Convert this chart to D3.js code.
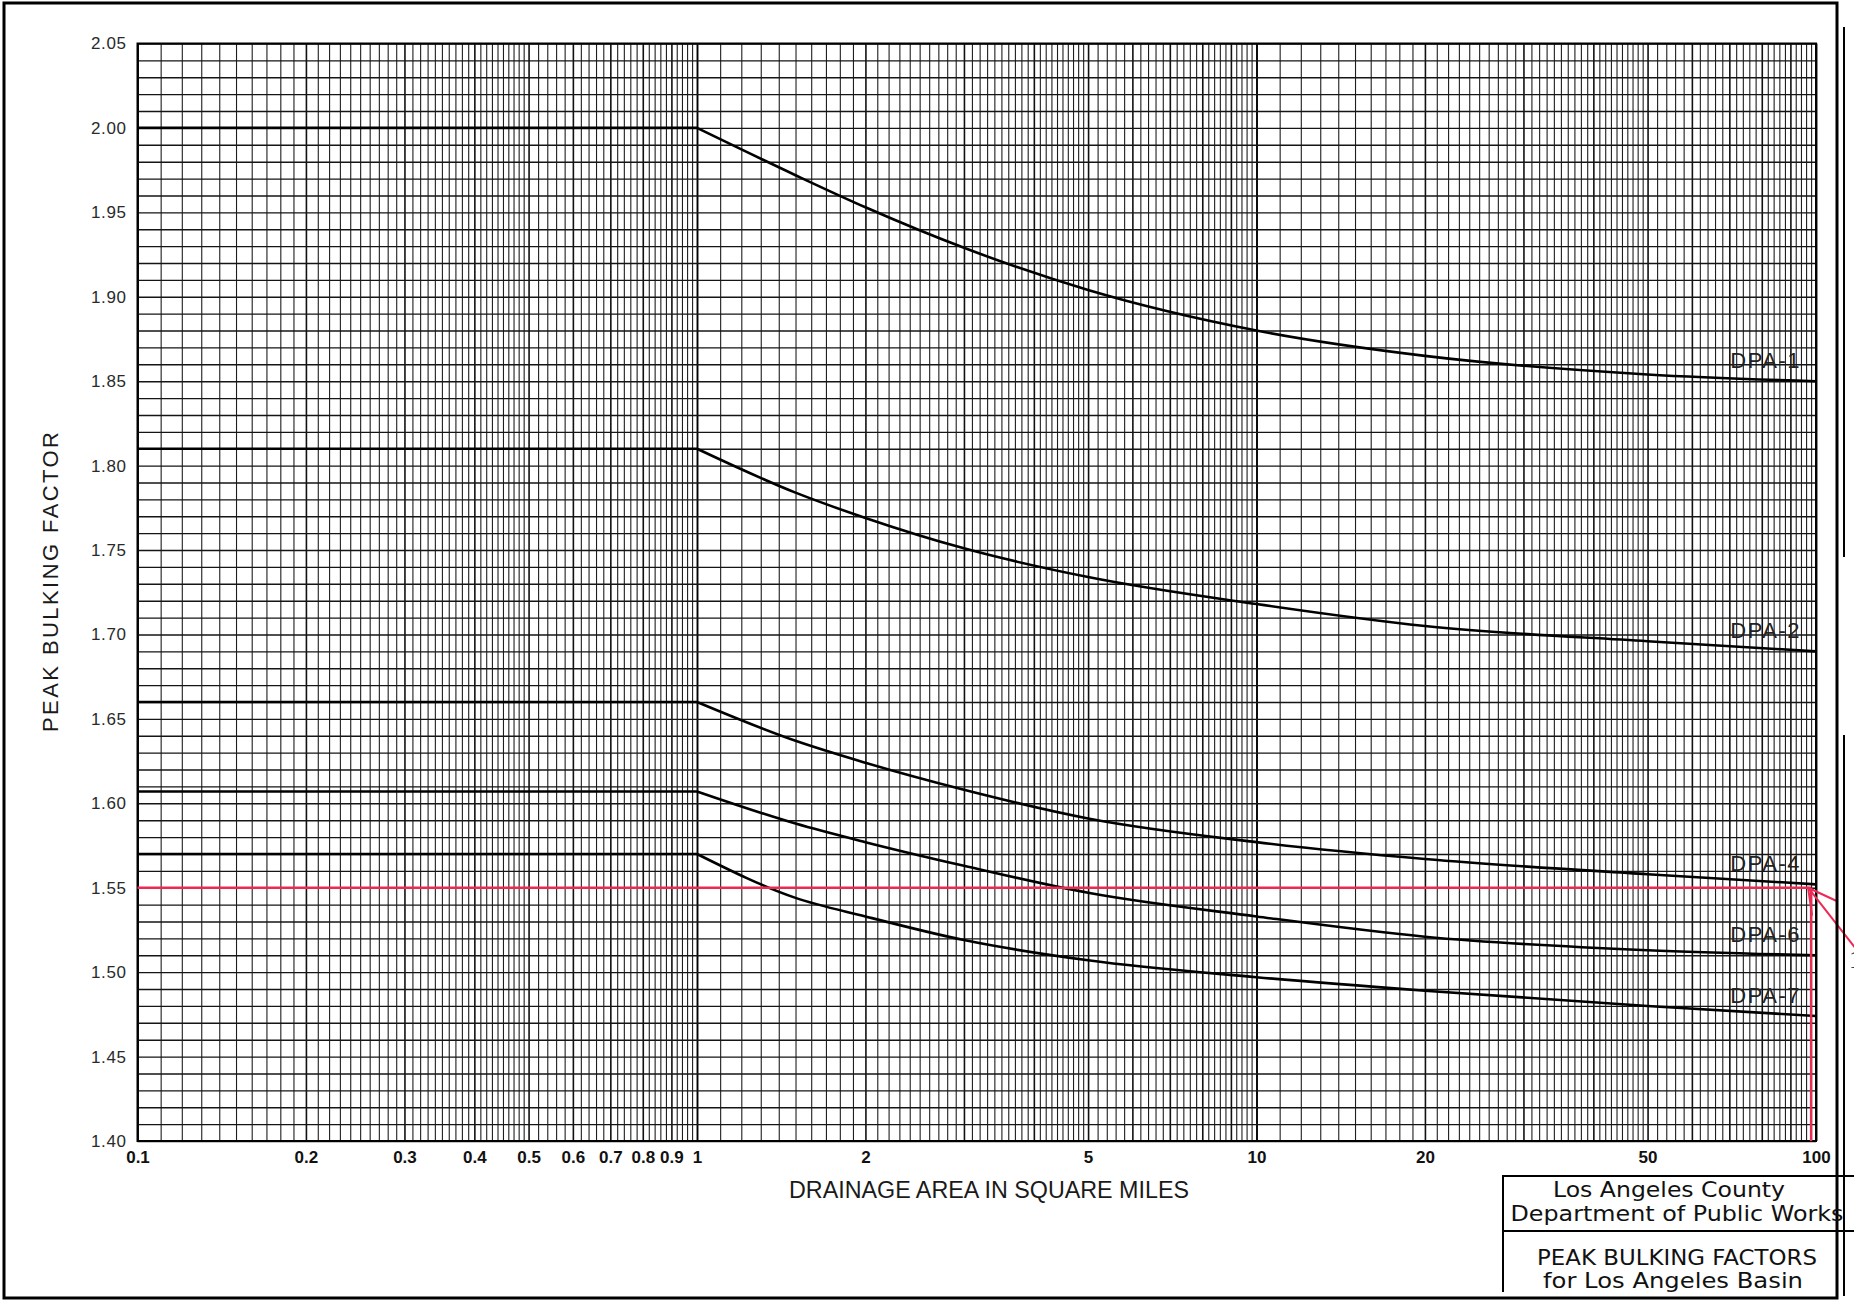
<!DOCTYPE html>
<html>
<head>
<meta charset="utf-8">
<script src="https://cdn.jsdelivr.net/npm/d3@7"></script>
<style>
  html, body { margin: 0; padding: 0; background: #fff; }
  svg { display: block; }
  .grid path { display: none; }
  .grid line { stroke: #1e1e1e; stroke-width: 1.1; }
  .grid.horiz line { stroke: #151515; stroke-width: 1.4; }
  .grid .major line { stroke: #111; stroke-width: 1.6; }
  .grid .decade line { stroke: #000; stroke-width: 1.9; }
  .ticks path, .ticks line { display: none; }
  .xticks text { font-family: "Liberation Sans", Arial, sans-serif; font-weight: bold; font-size: 17px; fill: #111; }
  .yticks text { font-family: "Liberation Sans", Arial, sans-serif; font-size: 17px; fill: #2a2a2a; letter-spacing: 0.6px; }
  .curve { fill: none; stroke: #000; stroke-width: 2.6; stroke-linejoin: round; }
  .dpa-label { font-family: "Liberation Sans", Arial, sans-serif; font-size: 22px; fill: #222; letter-spacing: 1.5px; }
  .title { font-family: "Liberation Sans", Arial, sans-serif; fill: #1a1a1a; }
  .block { font-family: "DejaVu Sans", sans-serif; fill: #111; }
</style>
</head>
<body>
<svg id="chart" width="1854" height="1301"></svg>
<script>
// drainage area (sq mi) where the curves were read
const areas = [0.1, 1, 1.5, 2, 3, 5, 10, 20, 50, 100];

// peak bulking factor per debris potential area
const dpa1 = [2.000, 2.000, 1.972, 1.953, 1.929, 1.904, 1.880, 1.865, 1.854, 1.850];
const dpa2 = [1.810, 1.810, 1.784, 1.769, 1.751, 1.734, 1.718, 1.705, 1.696, 1.690];
const dpa4 = [1.660, 1.660, 1.637, 1.624, 1.608, 1.591, 1.577, 1.567, 1.558, 1.552];
const dpa6 = [1.607, 1.607, 1.588, 1.577, 1.563, 1.547, 1.533, 1.521, 1.513, 1.510];
const dpa7 = [1.570, 1.570, 1.544, 1.533, 1.519, 1.507, 1.497, 1.489, 1.480, 1.474];

const seriesNames = ['DPA-1', 'DPA-2', 'DPA-4', 'DPA-6', 'DPA-7'];
const seriesValues = [dpa1, dpa2, dpa4, dpa6, dpa7];

const xTickValues = [0.1, 0.2, 0.3, 0.4, 0.5, 0.6, 0.7, 0.8, 0.9, 1, 2, 5, 10, 20, 50, 100];
const xTickLabels = ['0.1', '0.2', '0.3', '0.4', '0.5', '0.6', '0.7', '0.8', '0.9', '1', '2', '5', '10', '20', '50', '100'];
const yTickValues = [1.40, 1.45, 1.50, 1.55, 1.60, 1.65, 1.70, 1.75, 1.80, 1.85, 1.90, 1.95, 2.00, 2.05];
const yTickLabels = ['1.40', '1.45', '1.50', '1.55', '1.60', '1.65', '1.70', '1.75', '1.80', '1.85', '1.90', '1.95', '2.00', '2.05'];

// red read-off guide
const guideArea = 98;
const guideFactor = 1.55;

const svg = d3.select('#chart');

const x = d3.scaleLog().domain([0.1, 100]).range([137.5, 1816]);
const y = d3.scaleLinear().domain([1.40, 2.05]).range([1141, 43.5]);

const plotW = x(100) - x(0.1);
const plotH = y(1.40) - y(2.05);

/* log paper grid: 0.1 steps of the mantissa up to 5, 0.2 steps from 5 to 10 */
const gridX = [];
[0.1, 1, 10].forEach(function(dec) {
    d3.range(10, 50).forEach(function(k) { gridX.push(dec * k / 10); });
    d3.range(50, 100, 2).forEach(function(k) { gridX.push(dec * k / 10); });
});
gridX.push(100);
const gridY = d3.range(140, 206).map(function(v) { return v / 100; });

function mantissa(v) {
    const e = Math.pow(10, Math.floor(Math.log10(v) + 1e-9));
    return v / e;
}

const gx = svg.append('g')
    .attr('class', 'grid')
    .attr('transform', 'translate(0,' + y(1.40) + ')')
    .call(d3.axisBottom(x).tickValues(gridX).tickSize(-plotH).tickFormat(''));
gx.selectAll('.tick')
    .classed('major', function(d) { const m = mantissa(d); return Math.abs(m - Math.round(m)) < 1e-6; })
    .classed('decade', function(d) { return Math.abs(mantissa(d) - 1) < 1e-6; });

svg.append('g')
    .attr('class', 'grid horiz')
    .attr('transform', 'translate(' + x(0.1) + ',0)')
    .call(d3.axisLeft(y).tickValues(gridY).tickSize(-plotW).tickFormat(''));

svg.append('rect')
    .attr('x', x(0.1)).attr('y', y(2.05))
    .attr('width', plotW).attr('height', plotH)
    .attr('fill', 'none').attr('stroke', '#000').attr('stroke-width', 2);

/* tick labels */
svg.append('g')
    .attr('class', 'ticks xticks')
    .attr('transform', 'translate(0,' + y(1.40) + ')')
    .call(d3.axisBottom(x).tickValues(xTickValues).tickSize(0).tickPadding(10)
        .tickFormat(function(d, i) { return xTickLabels[i]; }));

svg.append('g')
    .attr('class', 'ticks yticks')
    .attr('transform', 'translate(' + x(0.1) + ',0)')
    .call(d3.axisLeft(y).tickValues(yTickValues).tickSize(0).tickPadding(11)
        .tickFormat(function(d, i) { return yTickLabels[i]; }));

/* curves: flat up to 1 sq mi, then falling */
const flatLine = d3.line().x(function(d) { return x(d.a); }).y(function(d) { return y(d.v); });
const fallLine = d3.line().curve(d3.curveMonotoneX).x(function(d) { return x(d.a); }).y(function(d) { return y(d.v); });

seriesValues.forEach(function(vals, s) {
    const pts = areas.map(function(a, i) { return { a: a, v: vals[i] }; });
    svg.append('path').attr('class', 'curve').attr('d', flatLine(pts.filter(function(d) { return d.a <= 1; })));
    svg.append('path').attr('class', 'curve').attr('d', fallLine(pts.filter(function(d) { return d.a >= 1; })));

    svg.append('text')
        .attr('class', 'dpa-label')
        .attr('x', x(100) - 15)
        .attr('y', y(vals[vals.length - 1]) - 13)
        .attr('text-anchor', 'end')
        .text(seriesNames[s]);
});

/* red guide lines and arrow */
const red = '#ec2a55';
const gxp = x(guideArea), gyp = y(guideFactor);
svg.append('line')
    .attr('x1', x(0.1)).attr('y1', gyp).attr('x2', gxp).attr('y2', gyp)
    .attr('stroke', red).attr('stroke-width', 2.4);
svg.append('line')
    .attr('x1', gxp).attr('y1', gyp).attr('x2', gxp).attr('y2', y(1.40))
    .attr('stroke', red).attr('stroke-width', 2.4);
svg.append('path')
    .attr('d', 'M' + (gxp - 3) + ',' + gyp + ' L' + (gxp + 44) + ',' + (gyp + 60) +
        ' M' + (gxp - 3) + ',' + gyp + ' L' + (gxp + 25) + ',' + (gyp + 13) +
        ' M' + (gxp - 3) + ',' + gyp + ' L' + (gxp + 1) + ',' + (gyp + 28))
    .attr('fill', 'none').attr('stroke', red).attr('stroke-width', 2);

/* axis titles */
svg.append('text')
    .attr('class', 'title')
    .attr('x', 989).attr('y', 1198)
    .attr('text-anchor', 'middle')
    .attr('font-size', 23)
    .attr('textLength', 400).attr('lengthAdjust', 'spacingAndGlyphs')
    .text('DRAINAGE AREA IN SQUARE MILES');

svg.append('text')
    .attr('class', 'title')
    .attr('transform', 'translate(58,582) rotate(-90)')
    .attr('text-anchor', 'middle')
    .attr('font-size', 22)
    .attr('textLength', 300).attr('lengthAdjust', 'spacing')
    .text('PEAK BULKING FACTOR');

/* sheet frame */
svg.append('rect')
    .attr('x', 4).attr('y', 3).attr('width', 1833).attr('height', 1295)
    .attr('fill', 'none').attr('stroke', '#000').attr('stroke-width', 3);
svg.append('path')
    .attr('d', 'M1844,27 L1844,557 M1844,735 L1844,1296')
    .attr('stroke', '#000').attr('stroke-width', 2).attr('fill', 'none');

/* title block */
svg.append('path')
    .attr('d', 'M1503,1292 L1503,1176 L1854,1176 M1503,1231 L1854,1231')
    .attr('stroke', '#000').attr('stroke-width', 2).attr('fill', 'none');

const blockLines = [
    { t: 'Los Angeles County', cx: 1669, base: 1197, w: 232 },
    { t: 'Department of Public Works', cx: 1677, base: 1221, w: 333 },
    { t: 'PEAK BULKING FACTORS', cx: 1677, base: 1265, w: 280 },
    { t: 'for Los Angeles Basin', cx: 1673, base: 1288, w: 260 }
];
svg.selectAll('text.block').data(blockLines).enter().append('text')
    .attr('class', 'block')
    .attr('x', function(d) { return d.cx; })
    .attr('y', function(d) { return d.base; })
    .attr('text-anchor', 'middle')
    .attr('font-size', 21.5)
    .attr('textLength', function(d) { return d.w; })
    .attr('lengthAdjust', 'spacingAndGlyphs')
    .text(function(d) { return d.t; });

svg.append('text')
    .attr('x', 1849).attr('y', 968)
    .attr('font-family', 'Liberation Serif, serif')
    .attr('font-size', 26).attr('fill', '#333')
    .text('1');
</script>
</body>
</html>
